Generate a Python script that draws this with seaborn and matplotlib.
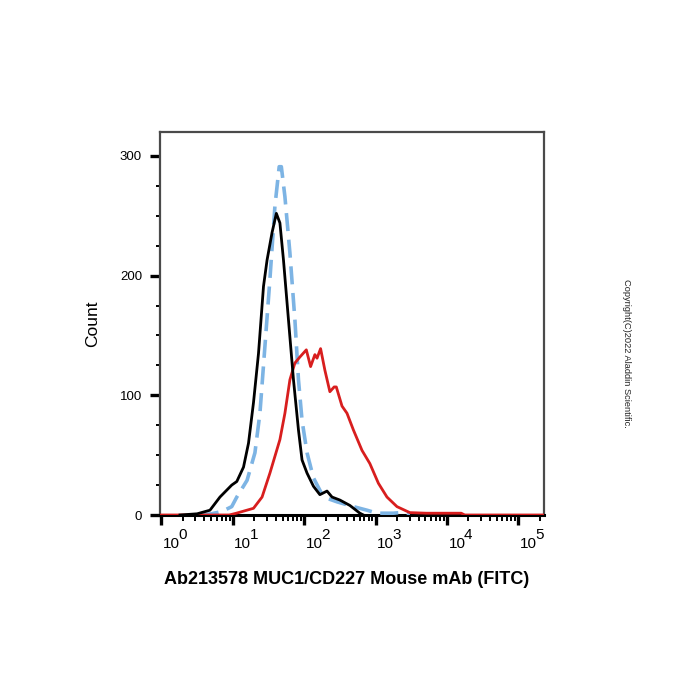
import numpy as np
import pandas as pd
import matplotlib
matplotlib.use("Agg")
import matplotlib.pyplot as plt
import matplotlib.transforms as mtransforms
from matplotlib.ticker import FixedLocator, LogLocator, NullFormatter
import seaborn as sns

# log10 of FITC intensity, and counts
black_log = [0.26, 0.50, 0.68, 0.82, 0.985, 1.056, 1.15, 1.22, 1.29, 1.36, 1.43, 1.48, 1.55, 1.61,
             1.66, 1.71, 1.78, 1.85, 1.92, 1.97, 2.04, 2.13, 2.22, 2.32, 2.39, 2.50, 2.64, 2.78, 2.83]
black_cnt = [0, 1, 4, 15, 25, 28, 40, 60, 94, 135, 191, 213, 236, 252,
             244, 213, 163, 113, 71, 46, 35, 24, 17, 20, 15, 12.5, 8, 1.5, 0]

blue_log = [0.55, 0.70, 0.85, 0.985, 1.056, 1.20, 1.31, 1.38, 1.45, 1.52, 1.59, 1.65, 1.68, 1.73,
            1.80, 1.87, 1.92, 1.97, 2.04, 2.13, 2.27, 2.46, 2.69, 2.88, 3.02, 3.25, 3.34, 3.48]
blue_cnt = [0, 1, 3, 7, 15, 29, 52, 85, 141, 197, 258, 291, 291, 266,
            219, 163, 113, 79, 52, 31, 15, 11, 7, 4, 1.5, 1.5, 2, 0]

red_log = [0.0, 0.95, 1.05, 1.29, 1.41, 1.52, 1.66, 1.73, 1.80, 1.87, 1.94, 2.03, 2.09, 2.15, 2.18,
           2.23, 2.29, 2.36, 2.42, 2.45, 2.53, 2.60, 2.69, 2.81, 2.92, 3.04, 3.16, 3.30, 3.48,
           3.71, 4.20, 4.25, 5.36]
red_cnt = [0, 0, 1.5, 5.6, 15, 35, 63, 85, 113, 127, 132, 138, 124, 134, 131,
           139, 121, 103, 107, 107, 91, 85, 71, 54, 43, 26.5, 15, 7, 2,
           1.5, 1.5, 0, 0]

y_major = [0, 100, 200, 300]
x_decades = [0, 1, 2, 3, 4, 5]

plt.rcParams['font.family'] = ['Liberation Sans', 'DejaVu Sans']

fig = plt.figure(figsize=(7, 7), dpi=100)
ax = fig.add_axes([160 / 700, 1 - 515 / 700, 384 / 700, 383 / 700])

df_black = pd.DataFrame({"x": np.power(10.0, black_log), "y": black_cnt})
df_blue = pd.DataFrame({"x": np.power(10.0, blue_log), "y": blue_cnt})
df_red = pd.DataFrame({"x": np.power(10.0, red_log), "y": red_cnt})

sns.lineplot(data=df_blue, x="x", y="y", ax=ax, color="#7db4e4", linewidth=2.6,
             linestyle=(0, (5.0, 2.4)), zorder=3)
sns.lineplot(data=df_red, x="x", y="y", ax=ax, color="#d81e1e", linewidth=2.0, zorder=4)
sns.lineplot(data=df_black, x="x", y="y", ax=ax, color="black", linewidth=2.0, zorder=5)

ax.set_xscale("log")
ax.set_xlim(10 ** -0.02, 10 ** 5.36)
ax.set_ylim(0, 320)

# ticks
ax.xaxis.set_major_locator(FixedLocator([10.0 ** d for d in x_decades]))
ax.xaxis.set_minor_locator(LogLocator(base=10, subs=np.arange(2, 10), numticks=20))
ax.xaxis.set_minor_formatter(NullFormatter())
ax.set_xticklabels(["10"] * len(x_decades))
ax.yaxis.set_major_locator(FixedLocator(y_major))
ax.yaxis.set_minor_locator(FixedLocator([v for v in range(25, 320, 25) if v % 100]))
ax.set_yticklabels([str(v) for v in y_major])

ax.tick_params(axis="x", which="major", direction="out", length=7.5, width=2.4, pad=8.5,
               labelsize=11, color="black")
ax.tick_params(axis="x", which="minor", direction="out", length=4, width=1.4, color="black")
ax.tick_params(axis="y", which="major", direction="out", length=7, width=2.4, pad=6,
               labelsize=9.5, color="black")
ax.tick_params(axis="y", which="minor", direction="out", length=3, width=1.4, color="black")

offset = mtransforms.ScaledTranslation(1.5 / 100, 0, fig.dpi_scale_trans)
for lab in ax.get_xticklabels():
    lab.set_horizontalalignment("left")
    lab.set_transform(lab.get_transform() + offset)

# exponents, drawn large like the cytometry software does
exp_tr = ax.get_xaxis_transform() + mtransforms.ScaledTranslation(17 / 100, -20 / 100, fig.dpi_scale_trans)
for d in x_decades:
    ax.text(10.0 ** d, 0, str(d), transform=exp_tr, fontsize=11, ha="left", va="center",
            clip_on=False)

for side in ["top", "right", "left"]:
    ax.spines[side].set_color("#4a4a4a")
    ax.spines[side].set_linewidth(1.6)
ax.spines["bottom"].set_color("black")
ax.spines["bottom"].set_linewidth(2.2)

ax.set_xlabel("Ab213578 MUC1/CD227 Mouse mAb (FITC)", fontsize=13, fontweight="bold")
ax.xaxis.set_label_coords(0.485, -0.147)
ax.set_ylabel("Count", fontsize=12.5)
ax.yaxis.set_label_coords(-0.155, 0.5)

fig.text(627 / 700, 1 - 353 / 700, "Copyright(C)2022 Aladdin Scientific.", rotation=-90,
         fontsize=6.7, ha="center", va="center", color="#222222")

fig.savefig("out.png", dpi=100, facecolor="white")
